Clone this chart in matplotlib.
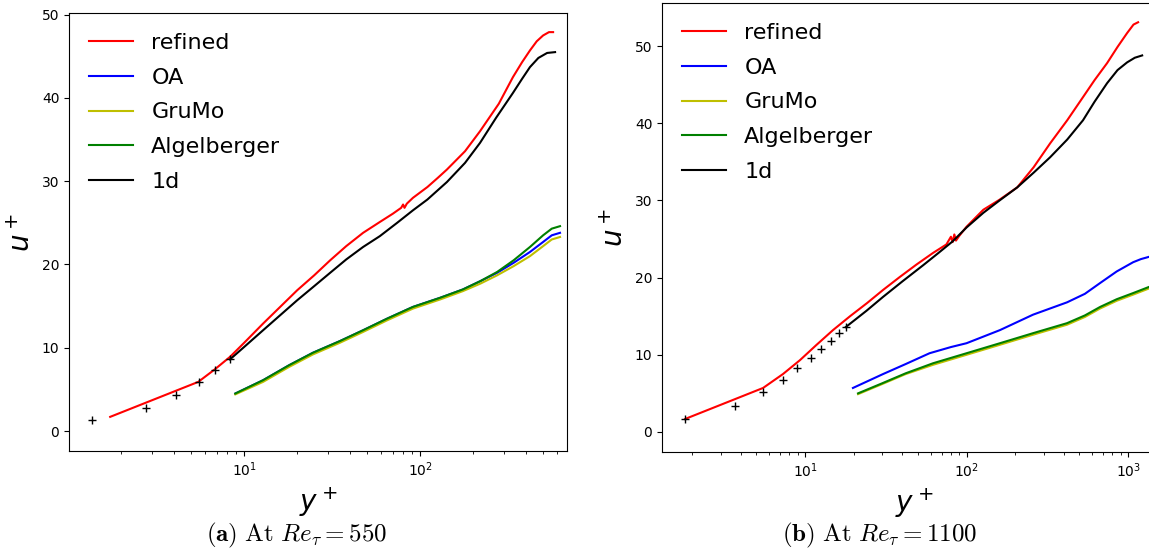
import numpy as np
import matplotlib.pyplot as plt

# ---- Re_tau = 550 ----
dns_y_550 = [1.37, 2.77, 4.1, 5.5, 6.8, 8.3]
dns_u_550 = [1.3, 2.8, 4.3, 5.9, 7.3, 8.6]

ref_y_550 = [1.73, 5.48, 6.8, 8.3, 10, 12.8, 16, 20, 25, 30.8, 38, 47.4, 59, 70, 78, 80, 81.5, 84,
             91, 110, 126, 142, 180, 219, 280, 337, 380, 421, 460, 500, 540, 570]
ref_u_550 = [1.7, 5.9, 7.4, 8.9, 10.6, 12.9, 14.9, 16.9, 18.7, 20.5, 22.2, 23.8, 25.1, 26.1, 26.8, 27.2, 26.8, 27.3,
             28.0, 29.3, 30.4, 31.4, 33.6, 36.0, 39.3, 42.5, 44.3, 45.7, 46.8, 47.5, 47.9, 47.9]

oned_y_550 = [8.3, 10, 12.8, 16, 20, 25, 30.8, 38, 47.4, 59, 74, 91, 110, 142, 180, 219, 270, 337,
              380, 421, 470, 527, 585]
oned_u_550 = [8.6, 10.1, 12.1, 13.9, 15.7, 17.4, 19.0, 20.6, 22.1, 23.4, 25.0, 26.5, 27.8, 29.9, 32.2, 34.6, 37.6, 40.6,
              42.3, 43.7, 44.8, 45.4, 45.5]

les_y_550 = [8.9, 12.8, 18, 24.6, 35, 47.4, 65, 91, 130, 175, 220, 274, 340, 421, 500, 560, 624]
oa_u_550 = [4.5, 6.1, 7.9, 9.4, 10.8, 12.1, 13.5, 14.9, 16.0, 17.0, 18.0, 19.0, 20.2, 21.5, 22.7, 23.5, 23.8]
grumo_u_550 = [4.4, 5.9, 7.7, 9.2, 10.6, 11.9, 13.3, 14.7, 15.8, 16.8, 17.7, 18.7, 19.8, 21.0, 22.2, 23.0, 23.3]
alg_u_550 = [4.5, 6.1, 7.9, 9.4, 10.8, 12.1, 13.5, 14.9, 16.0, 17.0, 18.0, 19.1, 20.5, 22.1, 23.5, 24.3, 24.6]

# ---- Re_tau = 1100 ----
dns_y_1100 = [1.81, 3.69, 5.5, 7.3, 8.9, 10.9, 12.6, 14.5, 16.3, 17.9]
dns_u_1100 = [1.68, 3.4, 5.2, 6.7, 8.3, 9.6, 10.8, 11.8, 12.8, 13.6]

ref_y_1100 = [1.81, 5.5, 7.3, 9.3, 11.8, 14.9, 19, 24.2, 30.4, 38.7, 49, 62, 75, 80, 82, 84, 86, 90,
              100, 127, 160, 206, 260, 329, 420, 526, 620, 741, 860, 986, 1080, 1153]
ref_u_1100 = [1.68, 5.7, 7.5, 9.3, 11.3, 13.2, 15.0, 16.7, 18.4, 20.1, 21.7, 23.2, 24.3, 25.3, 24.6, 25.6, 24.8, 25.4,
              26.6, 28.8, 30.1, 31.7, 34.3, 37.4, 40.4, 43.4, 45.6, 47.8, 49.9, 51.7, 52.8, 53.1]

oned_y_1100 = [17.9, 24, 30.4, 40, 53.8, 67, 82, 100, 127, 160, 206, 260, 329, 420, 526, 620, 741, 860,
               986, 1100, 1222]
oned_u_1100 = [13.6, 15.7, 17.5, 19.5, 21.6, 23.2, 24.7, 26.5, 28.4, 30.0, 31.7, 33.6, 35.6, 37.9, 40.4, 42.8, 45.2, 46.9,
               47.9, 48.5, 48.8]

oa_y_1100 = [19.8, 30.4, 42, 59, 80, 100, 161, 258, 419, 540, 671, 850, 1075, 1200, 1349, 1450]
oa_u_1100 = [5.7, 7.5, 8.8, 10.2, 11.0, 11.5, 13.2, 15.2, 16.8, 17.9, 19.3, 20.8, 22.0, 22.4, 22.7, 22.8]

les_y_1100 = [21.3, 30, 42, 62, 100, 161, 258, 419, 540, 671, 850, 1075, 1349, 1450]
alg_u_1100 = [5.0, 6.3, 7.6, 8.9, 10.2, 11.5, 12.8, 14.1, 15.1, 16.2, 17.2, 18.0, 18.8, 19.0]
grumo_u_1100 = [4.9, 6.2, 7.5, 8.7, 10.0, 11.3, 12.6, 13.9, 14.9, 16.0, 17.0, 17.8, 18.6, 18.8]

fig = plt.figure(figsize=(11.49, 5.5), dpi=100)
ax1 = fig.add_axes([0.0601, 0.18, 0.4334, 0.7964])
ax2 = fig.add_axes([0.5762, 0.1782, 0.4395, 0.8164])

ax1.plot(ref_y_550, ref_u_550, color='r', label='refined')
ax1.plot(les_y_550, oa_u_550, color='b', label='OA')
ax1.plot(les_y_550, grumo_u_550, color='y', label='GruMo')
ax1.plot(les_y_550, alg_u_550, color='g', label='Algelberger')
ax1.plot(oned_y_550, oned_u_550, color='k', label='1d')
ax1.plot(dns_y_550, dns_u_550, 'k+', linestyle='none')
ax1.set_xlim(1.01, 684)
ax1.set_ylim(-2.4, 50.2)

ax2.plot(ref_y_1100, ref_u_1100, color='r', label='refined')
ax2.plot(oa_y_1100, oa_u_1100, color='b', label='OA')
ax2.plot(les_y_1100, grumo_u_1100, color='y', label='GruMo')
ax2.plot(les_y_1100, alg_u_1100, color='g', label='Algelberger')
ax2.plot(oned_y_1100, oned_u_1100, color='k', label='1d')
ax2.plot(dns_y_1100, dns_u_1100, 'k+', linestyle='none')
ax2.set_xlim(1.303, 1742)
ax2.set_ylim(-2.6, 55.6)

for ax in (ax1, ax2):
    ax.set_xscale('log')
    ax.set_xlabel('$y^+$', fontsize=20)
    ax.set_ylabel('$u^+$', fontsize=20)
    ax.legend(loc='upper left', frameon=False, fontsize=16, labelspacing=0.66)

fig.text(0.258, 0.015, r'$\mathbf{(a)}\ \mathrm{At}\ Re_\tau = 550$', ha='center',
         fontsize=18, math_fontfamily='cm')
fig.text(0.766, 0.015, r'$\mathbf{(b)}\ \mathrm{At}\ Re_\tau = 1100$', ha='center',
         fontsize=18, math_fontfamily='cm')

fig.savefig('out.png', dpi=100)
